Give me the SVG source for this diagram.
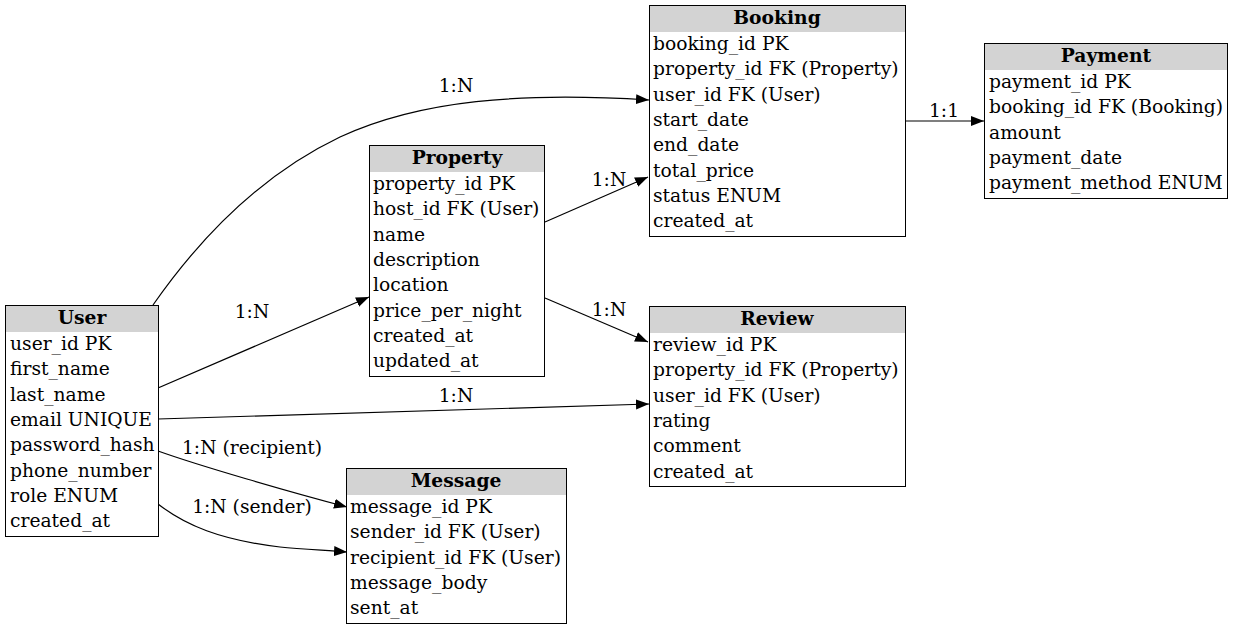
<svg xmlns="http://www.w3.org/2000/svg" width="1233" height="629" viewBox="0 0 1233 629">
<style>
text{font-family:"DejaVu Serif","Liberation Serif",serif;font-size:18.7px;fill:#000}
.h{font-weight:bold;text-anchor:middle}
.box{fill:#fff;stroke:#000;stroke-width:1}
.hdr{fill:#d3d3d3;stroke:none}
.e{fill:none;stroke:#000;stroke-width:1.2}
.lbl{text-anchor:middle}
</style>
<defs>
<marker id="arr" markerUnits="userSpaceOnUse" markerWidth="14" markerHeight="11" refX="13" refY="5" orient="auto">
<path d="M0,0 L13,5 L0,10 z" fill="#000"/>
</marker>
</defs>
<rect width="1233" height="629" fill="#fff"/>
<g id="connectors">
<path class="e" marker-end="url(#arr)" d="M153,305 C190,252 250,180 340,137 C420,100 520,92 649,100"/>
<path class="e" marker-end="url(#arr)" d="M545,222 L648,177"/>
<path class="e" marker-end="url(#arr)" d="M545,298 L648,342"/>
<path class="e" marker-end="url(#arr)" d="M158,388 L369,297"/>
<path class="e" marker-end="url(#arr)" d="M158,419 L649,404"/>
<path class="e" marker-end="url(#arr)" d="M158,451 C200,466 290,492 347,507"/>
<path class="e" marker-end="url(#arr)" d="M158,504 C185,525 220,540 280,547 C300,549 320,550 347,552"/>
<path class="e" marker-end="url(#arr)" d="M905,121 L984,121"/>
<text class="lbl" x="456" y="92">1:N</text>
<text class="lbl" x="609" y="186">1:N</text>
<text class="lbl" x="609" y="316">1:N</text>
<text class="lbl" x="252" y="318">1:N</text>
<text class="lbl" x="456" y="402">1:N</text>
<text class="lbl" x="252" y="454">1:N (recipient)</text>
<text class="lbl" x="252" y="513">1:N (sender)</text>
<text class="lbl" x="944" y="117">1:1</text>
</g>
<g id="User">
<rect class="box" x="5.5" y="305.5" width="153" height="231"/>
<rect class="hdr" x="6" y="306" width="152" height="26"/>
<text class="h" x="82" y="324">User</text>
<text x="10" y="350">user_id PK</text>
<text x="10" y="375.3">first_name</text>
<text x="10" y="400.6">last_name</text>
<text x="10" y="425.9">email UNIQUE</text>
<text x="10" y="451.2">password_hash</text>
<text x="10" y="476.5">phone_number</text>
<text x="10" y="501.8">role ENUM</text>
<text x="10" y="527.1">created_at</text>
</g>
<g id="Booking">
<rect class="box" x="649.5" y="5.5" width="256" height="231"/>
<rect class="hdr" x="650" y="6" width="255" height="26"/>
<text class="h" x="777" y="24">Booking</text>
<text x="653" y="50">booking_id PK</text>
<text x="653" y="75.3">property_id FK (Property)</text>
<text x="653" y="100.6">user_id FK (User)</text>
<text x="653" y="125.9">start_date</text>
<text x="653" y="151.2">end_date</text>
<text x="653" y="176.5">total_price</text>
<text x="653" y="201.8">status ENUM</text>
<text x="653" y="227.1">created_at</text>
</g>
<g id="Payment">
<rect class="box" x="984.5" y="43.5" width="243" height="155"/>
<rect class="hdr" x="985" y="44" width="242" height="26"/>
<text class="h" x="1106" y="62">Payment</text>
<text x="989" y="88">payment_id PK</text>
<text x="989" y="113.3">booking_id FK (Booking)</text>
<text x="989" y="138.6">amount</text>
<text x="989" y="163.9">payment_date</text>
<text x="989" y="189.2">payment_method ENUM</text>
</g>
<g id="Property">
<rect class="box" x="369.5" y="145.5" width="175" height="231"/>
<rect class="hdr" x="370" y="146" width="174" height="26"/>
<text class="h" x="457" y="164">Property</text>
<text x="373" y="190">property_id PK</text>
<text x="373" y="215.3">host_id FK (User)</text>
<text x="373" y="240.6">name</text>
<text x="373" y="265.9">description</text>
<text x="373" y="291.2">location</text>
<text x="373" y="316.5">price_per_night</text>
<text x="373" y="341.8">created_at</text>
<text x="373" y="367.1">updated_at</text>
</g>
<g id="Review">
<rect class="box" x="649.5" y="306.5" width="256" height="180"/>
<rect class="hdr" x="650" y="307" width="255" height="26"/>
<text class="h" x="777" y="325">Review</text>
<text x="653" y="351">review_id PK</text>
<text x="653" y="376.3">property_id FK (Property)</text>
<text x="653" y="401.6">user_id FK (User)</text>
<text x="653" y="426.9">rating</text>
<text x="653" y="452.2">comment</text>
<text x="653" y="477.5">created_at</text>
</g>
<g id="Message">
<rect class="box" x="346.5" y="468.5" width="220" height="155"/>
<rect class="hdr" x="347" y="469" width="219" height="26"/>
<text class="h" x="456" y="487">Message</text>
<text x="350" y="513">message_id PK</text>
<text x="350" y="538.3">sender_id FK (User)</text>
<text x="350" y="563.6">recipient_id FK (User)</text>
<text x="350" y="588.9">message_body</text>
<text x="350" y="614.2">sent_at</text>
</g>
</svg>
